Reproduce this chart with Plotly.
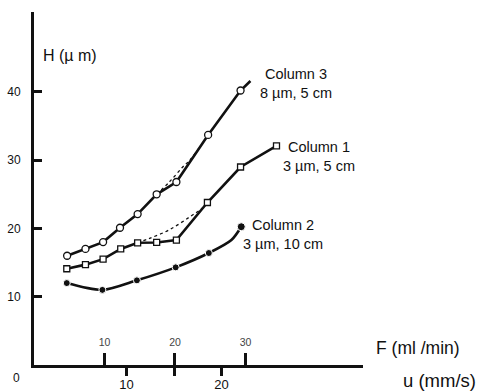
import plotly.graph_objects as go

# ---- data (F in ml/min, H in µm) ----
col3_F = [4.7, 7.3, 9.8, 12.2, 14.7, 17.4, 20.2, 24.7, 29.3, 30.7]
col3_H = [16.0, 17.0, 18.0, 20.1, 22.1, 25.0, 26.8, 33.7, 40.2, 41.6]
col3_size = [7, 7, 7, 7, 7, 7, 7, 7, 7, 0]
col3_dot_F = [17.4, 19.2, 21.1, 22.1, 23.5]
col3_dot_H = [25.0, 26.8, 29.0, 30.0, 31.9]

col1_F = [4.65, 7.3, 9.8, 12.3, 14.7, 17.4, 20.2, 24.6, 29.3, 34.4]
col1_H = [14.1, 14.7, 15.5, 17.0, 17.9, 17.95, 18.3, 23.8, 29.0, 32.1]
col1_dot_F = [14.7, 16.4, 19.2, 22.1, 23.9, 24.6]
col1_dot_H = [17.9, 18.55, 19.8, 21.7, 23.0, 23.8]

col2_F = [4.65, 9.7, 14.6, 20.1, 24.8, 28.0, 29.4]
col2_H = [12.0, 11.0, 12.4, 14.3, 16.4, 18.3, 20.25]
col2_size = [7, 7, 7, 7, 7, 0, 8]

F_ticks = [10, 20, 30]
H_ticks = [10, 20, 30, 40]
u_ticks = [10, 20]

# axis calibration
F_range = [0, 46.67]
H_range = [0, 51.7]
u_per_F = 0.742
u_offset = 0.263
u_range = [F_range[0] * u_per_F + u_offset, F_range[1] * u_per_F + u_offset]
u_at_F20 = 20 * u_per_F + u_offset

FONT = "Liberation Sans, Arial, sans-serif"
BLACK = "#111111"

fig = go.Figure()

fig.add_trace(go.Scatter(x=col3_dot_F, y=col3_dot_H, mode="lines",
                         line=dict(color=BLACK, width=1.3, dash="dot", shape="spline"),
                         hoverinfo="skip", showlegend=False))
fig.add_trace(go.Scatter(x=col1_dot_F, y=col1_dot_H, mode="lines",
                         line=dict(color=BLACK, width=1.3, dash="dot", shape="spline"),
                         hoverinfo="skip", showlegend=False))

fig.add_trace(go.Scatter(x=col3_F, y=col3_H, mode="lines+markers",
                         line=dict(color=BLACK, width=2.6),
                         marker=dict(symbol="circle", size=col3_size, color="white", opacity=1,
                                     line=dict(color=BLACK, width=1.3)),
                         showlegend=False))
fig.add_trace(go.Scatter(x=col1_F, y=col1_H, mode="lines+markers",
                         line=dict(color=BLACK, width=2.6),
                         marker=dict(symbol="square", size=6, color="white", opacity=1,
                                     line=dict(color=BLACK, width=1.3)),
                         showlegend=False))
fig.add_trace(go.Scatter(x=col2_F, y=col2_H, mode="lines+markers",
                         line=dict(color=BLACK, width=2.6, shape="spline", smoothing=0.8),
                         marker=dict(symbol="circle", size=col2_size, color=BLACK, opacity=1),
                         showlegend=False))

# u axis dummy trace so xaxis2 is drawn
fig.add_trace(go.Scatter(x=[u_range[0]], y=[0], xaxis="x2", yaxis="y", mode="markers",
                         marker=dict(size=0, opacity=0), hoverinfo="skip", showlegend=False))

fig.update_layout(
    width=478, height=392,
    margin=dict(l=34, r=115, t=12, b=27, autoexpand=False),
    paper_bgcolor="white", plot_bgcolor="white",
    font=dict(family=FONT, color=BLACK),
    xaxis=dict(range=F_range, tickvals=F_ticks, ticks="inside", ticklen=12, tickwidth=2.5,
               tickcolor=BLACK, ticklabelposition="inside", ticklabelstandoff=4,
               tickfont=dict(size=10.5, family=FONT), automargin=False,
               showline=True, linewidth=3, linecolor=BLACK, showgrid=False, zeroline=False),
    xaxis2=dict(range=u_range, overlaying="x", side="bottom", anchor="y",
                tickvals=[u_ticks[0], u_at_F20, u_ticks[1]], ticktext=["10", "", "20"],
                ticks="outside", ticklen=10, tickwidth=2.5, tickcolor=BLACK,
                ticklabelstandoff=-3,
                tickfont=dict(size=13, family=FONT), automargin=False,
                showline=False, showgrid=False, zeroline=False),
    yaxis=dict(range=H_range, tickvals=H_ticks, ticks="inside", ticklen=8, tickwidth=2.5,
               tickcolor=BLACK, tickfont=dict(size=12, family=FONT), ticklabelstandoff=8,
               automargin=False,
               showline=True, linewidth=3, linecolor=BLACK, showgrid=False, zeroline=False),
)

ann_font = dict(size=14.5, family=FONT, color=BLACK)
fig.add_annotation(x=37.1, y=41.3, xref="x", yref="y", text="Column 3<br>8 µm, 5 cm",
                   showarrow=False, font=ann_font, align="center")
fig.add_annotation(x=40.4, y=30.6, xref="x", yref="y", text="Column 1<br>3 µm, 5 cm",
                   showarrow=False, font=ann_font, align="center")
fig.add_annotation(x=35.3, y=19.1, xref="x", yref="y", text="Column 2<br>3 µm, 10 cm",
                   showarrow=False, font=ann_font, align="center")

# axis titles
fig.add_annotation(x=(41 - 34) / 329, y=(365 - 55) / 353, xref="paper", yref="paper",
                   text="H (µ m)", showarrow=False, xanchor="left", yanchor="middle",
                   font=dict(size=16, family=FONT, color=BLACK))
fig.add_annotation(x=(374 - 34) / 329, y=(365 - 348) / 353, xref="paper", yref="paper",
                   text="F (ml /min)", showarrow=False, xanchor="left", yanchor="middle",
                   font=dict(size=17.5, family=FONT, color=BLACK))
fig.add_annotation(x=(401 - 34) / 329, y=(365 - 381) / 353, xref="paper", yref="paper",
                   text="u (mm/s)", showarrow=False, xanchor="left", yanchor="middle",
                   font=dict(size=18.5, family=FONT, color=BLACK))
fig.add_annotation(x=(16 - 34) / 329, y=(365 - 378) / 353, xref="paper", yref="paper",
                   text="0", showarrow=False, xanchor="center", yanchor="middle",
                   font=dict(size=12, family=FONT, color=BLACK))

fig.write_html("out.html")
